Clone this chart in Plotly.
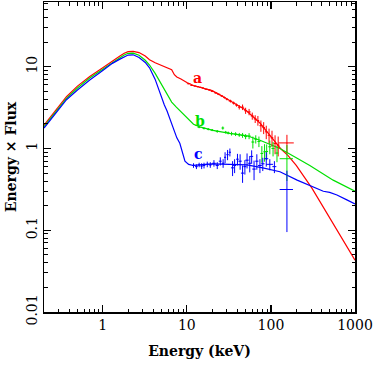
import math
import plotly.graph_objects as go

# model curves (energy in keV, E x F)
red_model_e = [0.2, 0.3, 0.37, 0.5, 0.7, 1.0, 1.3, 1.6, 1.8, 2.0, 2.3, 2.7, 3.2, 3.6, 4.2, 5.0,
               6.0, 6.6, 7.1, 7.6, 8.5, 10, 12, 14.3, 20, 25, 32, 40, 50, 60, 74, 90, 105, 130,
               160, 200, 306, 500, 1000]
red_model_f = [1.93, 3.25, 4.3, 5.8, 7.6, 9.7, 11.8, 13.5, 14.6, 15.3, 15.4, 14.9, 13.5, 12.2,
               11.2, 10.3, 9.6, 9.2, 8.0, 7.5, 7.1, 6.4, 5.9, 5.6, 5.1, 4.5, 3.9, 3.4, 2.95, 2.5,
               2.05, 1.6, 1.3, 1.0, 0.82, 0.62, 0.33, 0.142, 0.043]

green_model_e = [0.2, 0.3, 0.37, 0.5, 0.7, 1.0, 1.3, 1.6, 1.8, 2.0, 2.3, 2.7, 3.2, 3.6, 4.2, 5.0,
                 5.8, 6.6, 7.5, 8.25, 9.5, 10.8, 12, 14.3, 20.4, 32.5, 52, 74, 100, 128, 205,
                 290, 550, 1000]
green_model_f = [1.85, 3.1, 4.1, 5.5, 7.3, 9.3, 11.3, 12.9, 13.9, 14.6, 14.7, 13.8, 12.0, 10.5,
                 8.3, 6.0, 4.6, 3.7, 3.2, 2.9, 2.45, 2.15, 1.98, 1.84, 1.67, 1.53, 1.43, 1.26,
                 1.1, 1.0, 0.76, 0.62, 0.41, 0.30]

blue_model_e = [0.2, 0.3, 0.37, 0.5, 0.7, 1.0, 1.3, 1.6, 1.8, 2.0, 2.3, 2.7, 3.2, 3.6, 4.2, 4.8,
                5.4, 5.8, 6.6, 7.6, 8.25, 9.0, 9.5, 10.5, 12, 20, 35, 52, 80, 128, 205, 315,
                420, 500, 610, 800, 1000]
blue_model_f = [1.78, 3.0, 3.95, 5.2, 6.9, 9.0, 11.0, 12.4, 13.3, 13.9, 14.0, 13.0, 11.3, 9.7,
                7.0, 4.7, 3.4, 2.9, 2.0, 1.35, 1.16, 0.85, 0.70, 0.64, 0.62, 0.65, 0.64, 0.63,
                0.58, 0.52, 0.41, 0.34, 0.30, 0.29, 0.27, 0.235, 0.21]

# data points with error bars
red_e = [10.5, 11.5, 12.5, 13.5, 14.5, 15.5, 17, 18.5, 20, 22, 24, 26, 28, 30, 33, 36, 39, 42,
         46, 50, 55, 60, 65, 70, 76, 82, 88, 95, 103, 112, 122, 155]
red_f = [6.2, 5.9, 5.8, 5.7, 5.6, 5.5, 5.3, 5.2, 5.0, 4.8, 4.6, 4.4, 4.2, 4.0, 3.8, 3.6, 3.4, 3.2,
         3.2, 2.9, 2.8, 2.5, 2.3, 2.2, 1.9, 1.8, 1.6, 1.45, 1.35, 1.15, 1.1, 1.17]
red_ex = [0.5, 0.5, 0.5, 0.5, 0.5, 0.5, 0.75, 0.75, 0.75, 1, 1, 1, 1, 1, 1.5, 1.5, 1.5, 1.5,
          2, 2, 2.5, 2.5, 2.5, 2.5, 3, 3, 3, 3.5, 4, 4.5, 5, 32]
red_ey = [0.08, 0.08, 0.08, 0.08, 0.08, 0.08, 0.08, 0.08, 0.1, 0.1, 0.1, 0.1, 0.12, 0.12, 0.15,
          0.15, 0.15, 0.2, 0.25, 0.25, 0.25, 0.25, 0.25, 0.3, 0.3, 0.3, 0.3, 0.3, 0.3, 0.3, 0.3, 0.3]

green_e = [14, 16, 18, 20, 23, 26.8, 29, 31, 34, 38, 42, 46, 50, 55, 61, 66, 72, 78, 84, 89,
           97, 106, 118, 155]
green_f = [1.82, 1.76, 1.72, 1.68, 1.62, 1.78, 1.58, 1.55, 1.52, 1.50, 1.47, 1.45, 1.40, 1.42,
           1.20, 1.30, 1.22, 0.87, 0.91, 0.92, 1.05, 1.00, 0.88, 0.75]
green_ex = [0.6, 0.6, 0.6, 0.75, 0.9, 1, 1, 1, 1.5, 1.5, 1.5, 2, 2, 2.5, 2.5, 2.5, 3, 3, 3,
            3.5, 4, 4.5, 5, 28]
green_ey = [0.05, 0.05, 0.05, 0.05, 0.06, 0.08, 0.06, 0.06, 0.08, 0.08, 0.08, 0.1, 0.1, 0.12,
            0.2, 0.15, 0.18, 0.2, 0.22, 0.2, 0.2, 0.2, 0.2, 0.35]

blue_e = [12, 13, 14, 15, 16, 17.5, 19, 21, 23, 25, 27, 28.5, 30.5, 32.5, 35, 37, 40, 43, 46,
          49, 52, 56, 59, 63, 68, 74, 80, 88, 97, 110, 155]
blue_f = [0.62, 0.60, 0.63, 0.61, 0.62, 0.64, 0.63, 0.66, 0.62, 0.70, 0.66, 0.78, 0.84, 0.90,
          0.58, 0.62, 0.74, 0.70, 0.50, 0.60, 0.72, 0.66, 0.80, 0.56, 0.70, 0.62, 0.65, 0.75,
          0.64, 0.60, 0.315]
blue_ex = [0.5, 0.5, 0.5, 0.5, 0.6, 0.75, 0.75, 1, 1, 1, 1, 0.8, 1, 1, 1.5, 1.5, 1.5, 2, 2,
           2, 2.5, 2.5, 2.5, 3, 3, 4, 4, 5, 9, 6, 28]
blue_ey = [0.04, 0.04, 0.04, 0.05, 0.05, 0.05, 0.05, 0.06, 0.06, 0.08, 0.08, 0.12, 0.12, 0.1,
           0.12, 0.12, 0.12, 0.15, 0.12, 0.12, 0.15, 0.15, 0.15, 0.15, 0.15, 0.12, 0.12, 0.15,
           0.1, 0.1, 0.22]

labels = ["a", "b", "c"]
label_e = [13.5, 14.3, 13.8]
label_f = [7.3, 2.2, 0.85]

RED, GREEN, BLUE = "#ff0000", "#00e000", "#0000ff"
font = "DejaVu Serif"

fig = go.Figure()

for e, f, c in [(red_model_e, red_model_f, RED),
                (green_model_e, green_model_f, GREEN),
                (blue_model_e, blue_model_f, BLUE)]:
    fig.add_trace(go.Scatter(x=e, y=f, mode="lines", line=dict(color=c, width=1.2),
                             showlegend=False, hoverinfo="skip"))

for e, f, ex, ey, c in [(red_e, red_f, red_ex, red_ey, RED),
                        (green_e, green_f, green_ex, green_ey, GREEN),
                        (blue_e, blue_f, blue_ex, blue_ey, BLUE)]:
    fig.add_trace(go.Scatter(
        x=e, y=f, mode="markers", marker=dict(size=1, color=c),
        error_x=dict(type="data", array=ex, color=c, thickness=1, width=0),
        error_y=dict(type="data", array=ey, color=c, thickness=1, width=0),
        showlegend=False, hoverinfo="skip",
    ))

# annotations on log axes take log10 coordinates
for t, e, f, c in zip(labels, label_e, label_f, [RED, GREEN, BLUE]):
    fig.add_annotation(x=math.log10(e), y=math.log10(f), xref="x", yref="y",
                       text="<b>%s</b>" % t, showarrow=False,
                       font=dict(family=font, size=14, color=c))

minor_vals = [m * 10 ** d for d in range(-3, 4) for m in range(2, 10)]

axis_common = dict(
    type="log", showgrid=False, zeroline=False,
    showline=True, linecolor="black", linewidth=1.5, mirror="allticks",
    ticks="inside", ticklen=7, tickwidth=1.2, tickcolor="black",
    minor=dict(tickvals=minor_vals, ticks="inside", ticklen=3.5, tickwidth=1, tickcolor="black"),
    tickfont=dict(family=font, size=14, color="black"),
    showspikes=False,
)

fig.update_xaxes(range=[-0.699, 3], tickvals=[1, 10, 100, 1000], ticktext=["1", "10", "100", "1000"],
                 title=dict(text="<b>Energy (keV)</b>", font=dict(family=font, size=14, color="black"), standoff=14),
                 **axis_common)
fig.update_yaxes(range=[-2, 1.792], tickvals=[0.01, 0.1, 1, 10], ticktext=["0.01", "0.1", "1", "10"],
                 tickangle=-90,
                 title=dict(text="<b>Energy × Flux</b>", font=dict(family=font, size=14, color="black"), standoff=4),
                 **axis_common)

fig.update_layout(
    width=374, height=365,
    margin=dict(l=44, r=19, t=2, b=53, autoexpand=False),
    plot_bgcolor="white", paper_bgcolor="white",
    hovermode=False,
)

fig.write_html("out.html", config={"displayModeBar": False, "staticPlot": True},
               post_script="document.body.style.margin='0px';")
